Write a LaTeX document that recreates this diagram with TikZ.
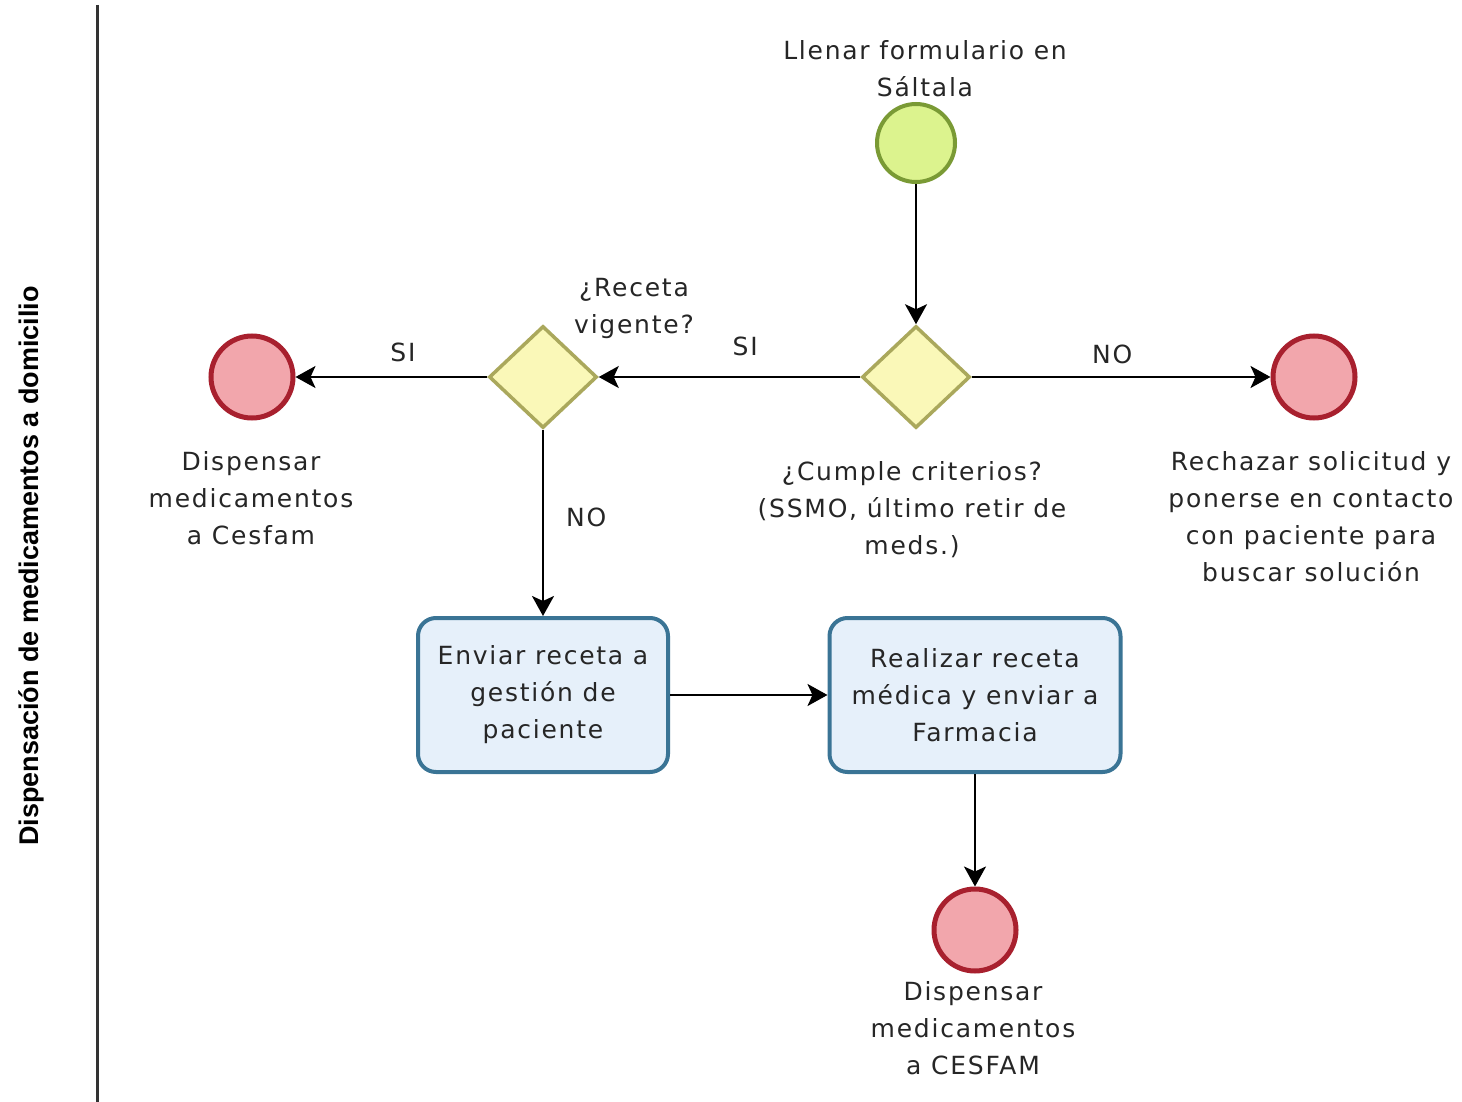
\documentclass[tikz,border=0pt]{standalone}
\usepackage{fontspec}
\setmainfont{DejaVu Sans}[LetterSpace=7]
\newfontfamily\lanefont{Liberation Sans}
\usetikzlibrary{shapes.geometric,arrows.meta}
\definecolor{txt}{HTML}{262626}
\definecolor{startfill}{HTML}{DCF38E}
\definecolor{startdraw}{HTML}{7A9A35}
\definecolor{gwfill}{HTML}{FAF8B8}
\definecolor{gwdraw}{HTML}{AAA85C}
\definecolor{endfill}{HTML}{F2A6AC}
\definecolor{enddraw}{HTML}{A8202E}
\definecolor{taskfill}{HTML}{E6F0FA}
\definecolor{taskdraw}{HTML}{3A7495}
\definecolor{lanecol}{HTML}{333333}
\tikzset{
  lbl/.style={text=txt, font=\fontsize{25}{37}\selectfont, align=center, inner sep=0pt},
  startev/.style={circle, draw=startdraw, fill=startfill, line width=4pt, minimum size=78pt, inner sep=0pt},
  endev/.style={circle, draw=enddraw, fill=endfill, line width=5pt, minimum size=82pt, inner sep=0pt},
  gateway/.style={diamond, draw=gwdraw, fill=gwfill, line width=3.5pt, minimum width=108pt, minimum height=102pt, inner sep=0pt},
  taskbox/.style={rectangle, rounded corners=18pt, draw=taskdraw, fill=taskfill, line width=4pt, inner sep=0pt, text=txt, font=\fontsize{25}{37}\selectfont, align=center},
  flow/.style={line width=2.3pt, draw=black, -{Stealth[length=20pt, width=22pt, inset=5pt]}}
}
\begin{document}
\begin{tikzpicture}[x=1pt, y=-1pt]
\useasboundingbox (0,0) rectangle (1462,1102);
\fill[white] (0,0) rectangle (1462,1102);
% lane
\coordinate (laneTop) at (97,5);
\coordinate (laneBot) at (97,1102);
\draw[lanecol, line width=3pt] (laneTop) -- (laneBot);
\node[rotate=90, text=black, font=\lanefont\bfseries\fontsize{27}{30}\selectfont, inner sep=0pt] (lane) at (31,566) {Dispensación de medicamentos a domicilio};

% events and gateways
\node[startev] (start) at (916,143) {};
\node[gateway] (d1) at (916,377) {};
\node[gateway] (d2) at (543,377) {};
\node[endev] (endR) at (1314,377) {};
\node[endev] (endL) at (252,377) {};
\node[taskbox, minimum width=250pt, minimum height=154pt] (t1) at (543,695) {Enviar receta a\\gestión de\\paciente};
\node[taskbox, minimum width=291pt, minimum height=154pt] (t2) at (975,695) {Realizar receta\\médica y enviar a\\Farmacia};
\node[endev] (endB) at (975,930) {};

% labels
\node[lbl] (lStart) at (925,69) {Llenar formulario en\\Sáltala};
\node[lbl] (lD1) at (912,510) {¿Cumple criterios?\\(SSMO, último retir de\\meds.)};
\node[lbl] (lEndR) at (1311,517) {Rechazar solicitud y\\ponerse en contacto\\con paciente para\\buscar solución};
\node[lbl] (lD2) at (634,308) {¿Receta\\vigente?};
\node[lbl] (lEndL) at (251,498) {Dispensar\\medicamentos\\a Cesfam};
\node[lbl] (lEndB) at (973,1028) {Dispensar\\medicamentos\\a CESFAM};

% flows
\draw[flow] (start) -- (d1);
\draw[flow] (d1.east) -- node[lbl, pos=0.47, above=12pt] (fNO1) {NO} (endR.west);
\draw[flow] (d1.west) -- node[lbl, pos=0.44, above=20pt] (fSI1) {SI} (d2.east);
\draw[flow] (d2.west) -- node[lbl, pos=0.44, above=14pt] (fSI2) {SI} (endL.east);
\draw[flow] (d2.south) -- node[lbl, pos=0.47, right=22pt] (fNO2) {NO} (t1.north);
\draw[flow] (t1.east) -- (t2.west);
\draw[flow] (t2.south) -- (endB.north);
\end{tikzpicture}
\end{document}
